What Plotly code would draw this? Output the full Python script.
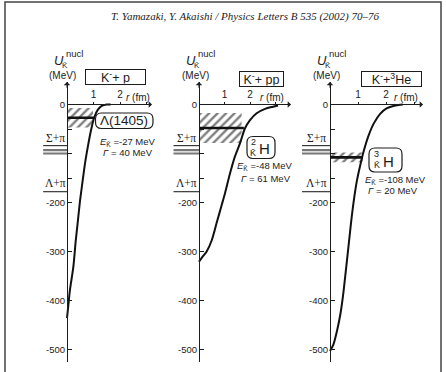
import plotly.graph_objects as go

W, H = 446, 372

# ---------------- data ----------------
titles = ["K<sup>-</sup>+ p", "K<sup>-</sup>+ pp", "K<sup>-</sup>+<sup>3</sup>He"]

# K-bar nucleus potentials U(r) [MeV] vs r [fm]
r_Kp = [0.0, 0.05, 0.11, 0.24, 0.33, 0.40, 0.49, 0.58, 0.68, 0.78, 0.90, 1.03, 1.16, 1.31, 1.50, 1.65]
U_Kp = [-436, -410, -379, -331, -278, -243, -197, -160, -120, -88, -54, -26, -11, -3, 0, 0]

r_Kpp = [0.0, 0.12, 0.30, 0.50, 0.69, 0.89, 1.02, 1.22, 1.41, 1.61, 1.80, 2.00, 2.26, 2.59, 2.90, 3.10]
U_Kpp = [-321, -312, -300, -277, -242, -205, -181, -140, -106, -79, -49, -32, -18, -9, -4.5, -2]

r_Khe = [0.0, 0.12, 0.25, 0.37, 0.47, 0.56, 0.65, 0.75, 0.85, 0.96, 1.08, 1.21, 1.38, 1.56, 1.79, 2.02, 2.26, 2.45, 2.60]
U_Khe = [-503, -490, -462, -428, -388, -342, -295, -242, -196, -156, -124, -94, -63, -39, -19, -8, -3, -1, 0]

curves_r = [r_Kp, r_Kpp, r_Khe]
curves_U = [U_Kp, U_Kpp, U_Khe]

# bound states: binding energy and width [MeV]
E_K = [-27, -48, -108]
Gamma = [40, 61, 20]
state_labels = ["Λ(1405)", "2", "3"]
# radial extent of the hatched width band and the level line [fm]
band_r = [0.98, 1.67, 1.17]
level_r = [1.05, 1.76, 1.17]

# decay thresholds [MeV]
sigma_pi = [-84, -93, -100]
lambda_pi = -178

ytick_vals = [0, -50, -100, -150, -200, -300, -400, -500]
ytick_text = ["0", "", "", "", "-200", "-300", "-400", "-500"]
xtick_vals = [1, 2, 3]
xtick_text = ["1", "2", ""]

# ---------------- geometry ----------------
U_top, U_bot = 46, -526
y0_px, k_px = 104.5, 0.49           # pixel row of U=0, pixels per MeV
panels = [
    dict(x0=67, s=26.5, left=30, right=156, tip=152, thr_left=-0.9),
    dict(x0=199, s=25.5, left=164, right=293, tip=291, thr_left=-1.0),
    dict(x0=330, s=28.0, left=296, right=432, tip=423, thr_left=-1.0),
]

SANS = "Liberation Sans, Arial, sans-serif"
SERIF = "Liberation Serif, Times New Roman, serif"
INK = "#1c1c1c"


def px(x):
    return x / W


def py(y):
    return 1 - y / H


def label(x, y, text, size, family=SANS, **kw):
    d = dict(x=px(x), y=py(y), xref="paper", yref="paper", text=text,
             showarrow=False, xanchor="center", yanchor="middle",
             font=dict(size=size, family=family, color=INK))
    d.update(kw)
    return d


ydom = [py(y0_px - U_bot * k_px), py(y0_px - U_top * k_px)]

fig = go.Figure()
layout = dict(
    width=W, height=H, margin=dict(l=0, r=0, t=0, b=0),
    paper_bgcolor="white", plot_bgcolor="rgba(0,0,0,0)",
    showlegend=False, font=dict(family=SANS, color=INK),
)
annotations = []
shapes = []

for i, g in enumerate(panels):
    sfx = "" if i == 0 else str(i + 1)
    xa, ya = "x" + sfx, "y" + sfx
    xr = [(g["left"] - g["x0"]) / g["s"], (g["right"] - g["x0"]) / g["s"]]

    layout["xaxis" + sfx] = dict(
        domain=[px(g["left"]), px(g["right"])], range=xr,
        anchor="free", position=py(y0_px), side="top",
        showline=False, showgrid=False, zeroline=False,
        ticks="outside", ticklen=3, tickwidth=1, tickcolor=INK,
        tickvals=xtick_vals, ticktext=xtick_text,
        tickfont=dict(size=10, family=SANS, color=INK),
    )
    layout["yaxis" + sfx] = dict(
        domain=ydom, range=[U_bot, U_top],
        anchor="free", position=px(g["x0"]),
        showline=True, linecolor=INK, linewidth=1,
        showgrid=False, zeroline=False,
        ticks="inside", ticklen=4, tickwidth=1, tickcolor=INK,
        tickvals=ytick_vals, ticktext=ytick_text,
        tickfont=dict(size=9.5, family=SANS, color=INK),
    )

    # hatched band E +/- Gamma/2
    top, bot = E_K[i] + Gamma[i] / 2, E_K[i] - Gamma[i] / 2
    fig.add_trace(go.Scatter(
        x=[0, band_r[i], band_r[i], 0, 0], y=[top, top, bot, bot, top],
        xaxis=xa, yaxis=ya, mode="lines", line=dict(width=0),
        fill="toself", fillcolor="rgba(0,0,0,0)",
        fillpattern=dict(shape="/", fgcolor="#000", bgcolor="white",
                         size=6, solidity=0.4),
        hoverinfo="skip"))

    # potential curve
    fig.add_trace(go.Scatter(
        x=curves_r[i], y=curves_U[i], xaxis=xa, yaxis=ya, mode="lines",
        line=dict(color="#111", width=2, shape="spline", smoothing=0.8),
        hoverinfo="skip"))

    # bound-state level
    fig.add_trace(go.Scatter(
        x=[0, level_r[i]], y=[E_K[i], E_K[i]], xaxis=xa, yaxis=ya,
        mode="lines", line=dict(color="#111", width=2.6), hoverinfo="skip"))

    # thresholds
    for j, u in enumerate(sigma_pi):
        fig.add_trace(go.Scatter(
            x=[g["thr_left"], 0], y=[u, u], xaxis=xa, yaxis=ya, mode="lines",
            line=dict(color="#111" if j == 0 else "#777", width=1 if j == 0 else 2.2),
            hoverinfo="skip"))
    fig.add_trace(go.Scatter(
        x=[g["thr_left"], 0], y=[lambda_pi, lambda_pi], xaxis=xa, yaxis=ya,
        mode="lines", line=dict(color="#111", width=1), hoverinfo="skip"))

    tx = g["thr_left"] / 2
    annotations.append(dict(x=tx, y=sigma_pi[0], xref=xa, yref=ya, text="Σ+π",
                            showarrow=False, xanchor="center", yanchor="bottom",
                            font=dict(family=SERIF, size=11.5, color=INK)))
    annotations.append(dict(x=tx, y=lambda_pi, xref=xa, yref=ya, text="Λ+π",
                            showarrow=False, xanchor="center", yanchor="bottom",
                            yshift=1, font=dict(family=SERIF, size=11.5, color=INK)))

    # axis arrows
    annotations.append(dict(x=0, y=U_top, ax=0, ay=U_top - 15, xref=xa, yref=ya,
                            axref=xa, ayref=ya, text="", showarrow=True,
                            arrowhead=1, arrowsize=1.1, arrowwidth=1, arrowcolor=INK))
    tip = (g["tip"] - g["x0"]) / g["s"]
    annotations.append(dict(x=tip, y=0, ax=0, ay=0, xref=xa, yref=ya,
                            axref=xa, ayref=ya, text="", showarrow=True,
                            arrowhead=1, arrowsize=1.1, arrowwidth=1, arrowcolor=INK))

    # axis titles
    x0 = g["x0"]
    annotations += [
        label(x0 - 8, 61, "<i>U</i>", 13),
        label(x0 + 7, 54, "nucl", 9.5),
        label(x0 - 2, 65.5, "K\u0304", 8),
        label(x0 - 4, 75, "(MeV)", 10),
    ]

# reaction titles in boxes
title_pos = [(115, 77, 58), (261, 78.5, 42), (391, 79, 58)]
for t, (cx, cy, w) in zip(titles, title_pos):
    annotations.append(label(cx, cy, t, 12.5, width=w, height=13, borderpad=0.5,
                             bordercolor=INK, borderwidth=1, bgcolor="white"))


def rounded_box(x0, y0, x1, y1, r):
    pts = [("M", x0 + r, y0), ("L", x1 - r, y0), ("Q", x1, y0, x1, y0 + r),
           ("L", x1, y1 - r), ("Q", x1, y1, x1 - r, y1), ("L", x0 + r, y1),
           ("Q", x0, y1, x0, y1 - r), ("L", x0, y0 + r), ("Q", x0, y0, x0 + r, y0)]
    out = []
    for p in pts:
        coords = p[1:]
        seg = " ".join(f"{px(coords[k]):.5f},{py(coords[k + 1]):.5f}"
                       for k in range(0, len(coords), 2))
        out.append(p[0] + seg)
    return " ".join(out) + " Z"


boxes = [(95.5, 113, 153, 128.5), (247, 136.5, 275, 158.5), (369, 148, 402, 172)]
for b in boxes:
    shapes.append(dict(type="path", xref="paper", yref="paper",
                       path=rounded_box(*b, 6), line=dict(color=INK, width=1.2),
                       fillcolor="white"))

annotations.append(label(124.5, 121, state_labels[0], 13.5))
# kaonic nuclei labels: mass number over K-bar, then H
for (nx, ny, kx, ky, hx, hy), lab in zip([(253, 142, 253, 152.5, 264, 148),
                                          (376.5, 154, 376.5, 165, 388, 161)],
                                         state_labels[1:]):
    annotations += [
        label(nx, ny, lab, 9),
        label(kx, ky, "K\u0304", 9),
        label(hx, hy, "H", 15),
    ]

# binding energy / width text
etext_pos = [(128, 142, 128, 152), (265, 166.5, 266, 178.5), (395, 179.5, 393, 190.5)]
for i, (ex, ey, gx, gy) in enumerate(etext_pos):
    annotations += [
        label(ex, ey, f"<i>E</i><sub>K\u0304</sub> =-{abs(E_K[i])} MeV", 9.5),
        label(gx, gy, f"<i>Γ</i> = {Gamma[i]} MeV", 9.5),
    ]

# r (fm) labels
for cx in [138, 272, 406]:
    annotations.append(label(cx, 97.5, "<i>r</i> (fm)", 10))

# running header
annotations.append(label(245, 17,
                         "<i>T. Yamazaki, Y. Akaishi / Physics Letters B 535 (2002) 70–76</i>",
                         11, family=SERIF))

# page frame
shapes.append(dict(type="rect", xref="paper", yref="paper",
                   x0=px(5), x1=px(441), y0=-0.2, y1=py(2),
                   line=dict(color="#444", width=1.5), layer="below"))

layout["annotations"] = annotations
layout["shapes"] = shapes
fig.update_layout(**layout)
fig.write_html("out.html")
